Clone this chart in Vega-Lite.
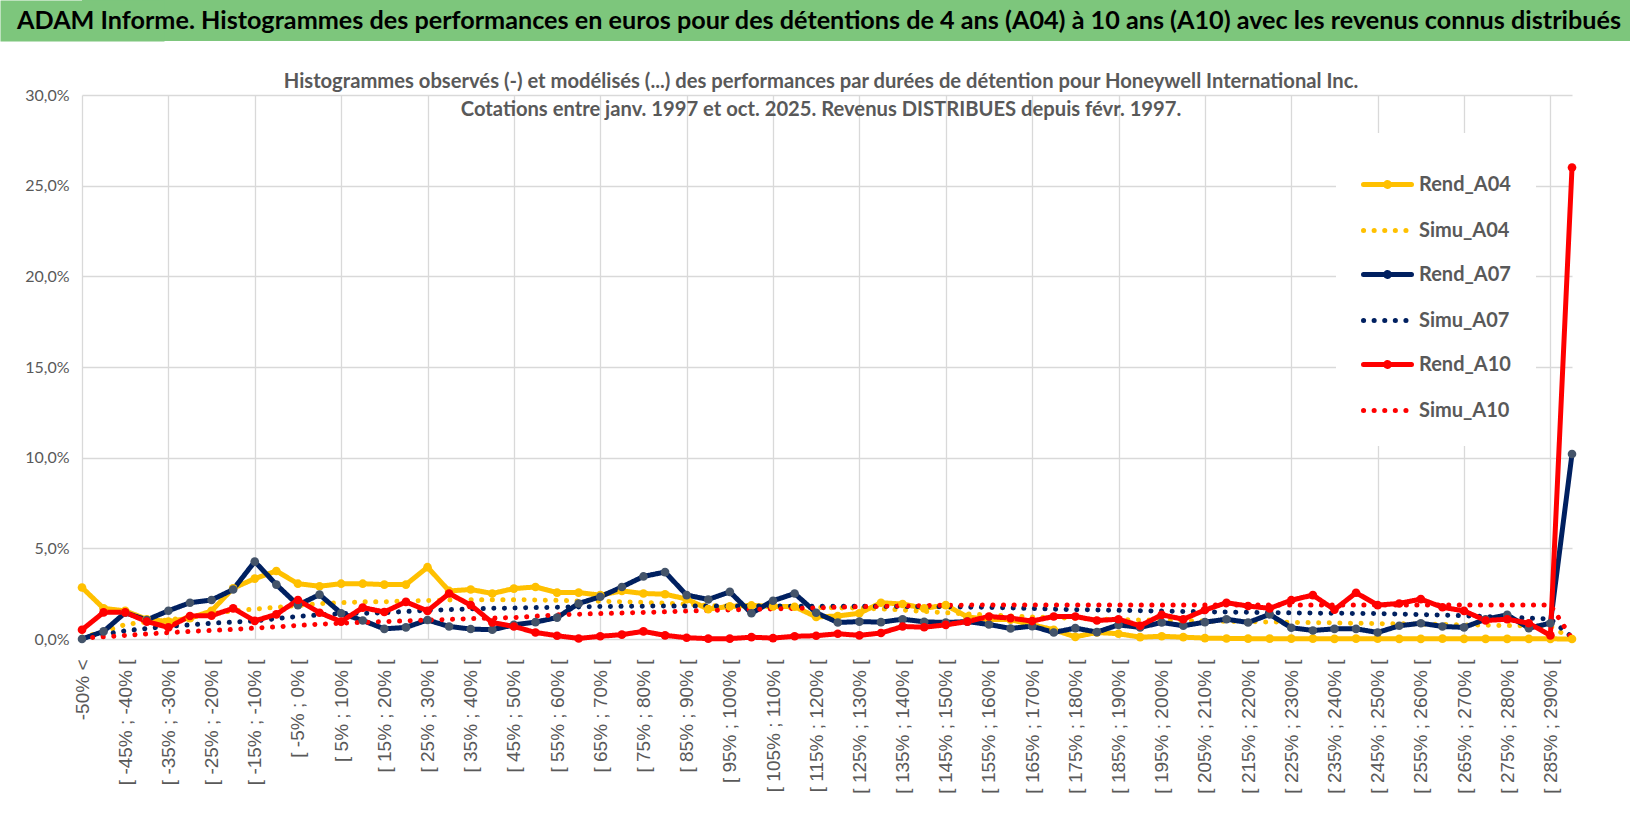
{
  "$schema": "https://vega.github.io/schema/vega-lite/v6.json",
  "padding": 0,
  "spacing": 30,
  "background": "white",
  "config": {"view": {"stroke": null}},
  "datasets": {
    "cats": [
      {"i": 0, "c": "-50% <"}, {"i": 1, "c": "[ -50% ; -45% ["}, {"i": 2, "c": "[ -45% ; -40% ["}, {"i": 3, "c": "[ -40% ; -35% ["},
      {"i": 4, "c": "[ -35% ; -30% ["}, {"i": 5, "c": "[ -30% ; -25% ["}, {"i": 6, "c": "[ -25% ; -20% ["}, {"i": 7, "c": "[ -20% ; -15% ["},
      {"i": 8, "c": "[ -15% ; -10% ["}, {"i": 9, "c": "[ -10% ; -5% ["}, {"i": 10, "c": "[ -5% ; 0% ["}, {"i": 11, "c": "[ 0% ; 5% ["},
      {"i": 12, "c": "[ 5% ; 10% ["}, {"i": 13, "c": "[ 10% ; 15% ["}, {"i": 14, "c": "[ 15% ; 20% ["}, {"i": 15, "c": "[ 20% ; 25% ["},
      {"i": 16, "c": "[ 25% ; 30% ["}, {"i": 17, "c": "[ 30% ; 35% ["}, {"i": 18, "c": "[ 35% ; 40% ["}, {"i": 19, "c": "[ 40% ; 45% ["},
      {"i": 20, "c": "[ 45% ; 50% ["}, {"i": 21, "c": "[ 50% ; 55% ["}, {"i": 22, "c": "[ 55% ; 60% ["}, {"i": 23, "c": "[ 60% ; 65% ["},
      {"i": 24, "c": "[ 65% ; 70% ["}, {"i": 25, "c": "[ 70% ; 75% ["}, {"i": 26, "c": "[ 75% ; 80% ["}, {"i": 27, "c": "[ 80% ; 85% ["},
      {"i": 28, "c": "[ 85% ; 90% ["}, {"i": 29, "c": "[ 90% ; 95% ["}, {"i": 30, "c": "[ 95% ; 100% ["}, {"i": 31, "c": "[ 100% ; 105% ["},
      {"i": 32, "c": "[ 105% ; 110% ["}, {"i": 33, "c": "[ 110% ; 115% ["}, {"i": 34, "c": "[ 115% ; 120% ["}, {"i": 35, "c": "[ 120% ; 125% ["},
      {"i": 36, "c": "[ 125% ; 130% ["}, {"i": 37, "c": "[ 130% ; 135% ["}, {"i": 38, "c": "[ 135% ; 140% ["}, {"i": 39, "c": "[ 140% ; 145% ["},
      {"i": 40, "c": "[ 145% ; 150% ["}, {"i": 41, "c": "[ 150% ; 155% ["}, {"i": 42, "c": "[ 155% ; 160% ["}, {"i": 43, "c": "[ 160% ; 165% ["},
      {"i": 44, "c": "[ 165% ; 170% ["}, {"i": 45, "c": "[ 170% ; 175% ["}, {"i": 46, "c": "[ 175% ; 180% ["}, {"i": 47, "c": "[ 180% ; 185% ["},
      {"i": 48, "c": "[ 185% ; 190% ["}, {"i": 49, "c": "[ 190% ; 195% ["}, {"i": 50, "c": "[ 195% ; 200% ["}, {"i": 51, "c": "[ 200% ; 205% ["},
      {"i": 52, "c": "[ 205% ; 210% ["}, {"i": 53, "c": "[ 210% ; 215% ["}, {"i": 54, "c": "[ 215% ; 220% ["}, {"i": 55, "c": "[ 220% ; 225% ["},
      {"i": 56, "c": "[ 225% ; 230% ["}, {"i": 57, "c": "[ 230% ; 235% ["}, {"i": 58, "c": "[ 235% ; 240% ["}, {"i": 59, "c": "[ 240% ; 245% ["},
      {"i": 60, "c": "[ 245% ; 250% ["}, {"i": 61, "c": "[ 250% ; 255% ["}, {"i": 62, "c": "[ 255% ; 260% ["}, {"i": 63, "c": "[ 260% ; 265% ["},
      {"i": 64, "c": "[ 265% ; 270% ["}, {"i": 65, "c": "[ 270% ; 275% ["}, {"i": 66, "c": "[ 275% ; 280% ["}, {"i": 67, "c": "[ 280% ; 285% ["},
      {"i": 68, "c": "[ 285% ; 290% ["}, {"i": 69, "c": "290% >"}
    ],
    "series": [
      {"s": "Rend_A04", "i": 0, "v": 2.84}, {"s": "Rend_A04", "i": 1, "v": 1.69}, {"s": "Rend_A04", "i": 2, "v": 1.55}, {"s": "Rend_A04", "i": 3, "v": 1.09}, {"s": "Rend_A04", "i": 4, "v": 0.96},
      {"s": "Rend_A04", "i": 5, "v": 1.15}, {"s": "Rend_A04", "i": 6, "v": 1.55}, {"s": "Rend_A04", "i": 7, "v": 2.8}, {"s": "Rend_A04", "i": 8, "v": 3.33}, {"s": "Rend_A04", "i": 9, "v": 3.75},
      {"s": "Rend_A04", "i": 10, "v": 3.05}, {"s": "Rend_A04", "i": 11, "v": 2.91}, {"s": "Rend_A04", "i": 12, "v": 3.05}, {"s": "Rend_A04", "i": 13, "v": 3.05}, {"s": "Rend_A04", "i": 14, "v": 3.0},
      {"s": "Rend_A04", "i": 15, "v": 3.0}, {"s": "Rend_A04", "i": 16, "v": 3.96}, {"s": "Rend_A04", "i": 17, "v": 2.65}, {"s": "Rend_A04", "i": 18, "v": 2.73}, {"s": "Rend_A04", "i": 19, "v": 2.51},
      {"s": "Rend_A04", "i": 20, "v": 2.78}, {"s": "Rend_A04", "i": 21, "v": 2.87}, {"s": "Rend_A04", "i": 22, "v": 2.56}, {"s": "Rend_A04", "i": 23, "v": 2.56}, {"s": "Rend_A04", "i": 24, "v": 2.42},
      {"s": "Rend_A04", "i": 25, "v": 2.65}, {"s": "Rend_A04", "i": 26, "v": 2.51}, {"s": "Rend_A04", "i": 27, "v": 2.47}, {"s": "Rend_A04", "i": 28, "v": 2.2}, {"s": "Rend_A04", "i": 29, "v": 1.65},
      {"s": "Rend_A04", "i": 30, "v": 1.8}, {"s": "Rend_A04", "i": 31, "v": 1.85}, {"s": "Rend_A04", "i": 32, "v": 1.8}, {"s": "Rend_A04", "i": 33, "v": 1.78}, {"s": "Rend_A04", "i": 34, "v": 1.22},
      {"s": "Rend_A04", "i": 35, "v": 1.27}, {"s": "Rend_A04", "i": 36, "v": 1.42}, {"s": "Rend_A04", "i": 37, "v": 2.0}, {"s": "Rend_A04", "i": 38, "v": 1.93}, {"s": "Rend_A04", "i": 39, "v": 1.69},
      {"s": "Rend_A04", "i": 40, "v": 1.87}, {"s": "Rend_A04", "i": 41, "v": 1.22}, {"s": "Rend_A04", "i": 42, "v": 1.07}, {"s": "Rend_A04", "i": 43, "v": 1.07}, {"s": "Rend_A04", "i": 44, "v": 0.78},
      {"s": "Rend_A04", "i": 45, "v": 0.51}, {"s": "Rend_A04", "i": 46, "v": 0.12}, {"s": "Rend_A04", "i": 47, "v": 0.36}, {"s": "Rend_A04", "i": 48, "v": 0.29}, {"s": "Rend_A04", "i": 49, "v": 0.1},
      {"s": "Rend_A04", "i": 50, "v": 0.15}, {"s": "Rend_A04", "i": 51, "v": 0.1}, {"s": "Rend_A04", "i": 52, "v": 0.05}, {"s": "Rend_A04", "i": 53, "v": 0.03}, {"s": "Rend_A04", "i": 54, "v": 0.02},
      {"s": "Rend_A04", "i": 55, "v": 0.02}, {"s": "Rend_A04", "i": 56, "v": 0.02}, {"s": "Rend_A04", "i": 57, "v": 0.02}, {"s": "Rend_A04", "i": 58, "v": 0.01}, {"s": "Rend_A04", "i": 59, "v": 0.02},
      {"s": "Rend_A04", "i": 60, "v": 0.02}, {"s": "Rend_A04", "i": 61, "v": 0.01}, {"s": "Rend_A04", "i": 62, "v": 0.01}, {"s": "Rend_A04", "i": 63, "v": 0.02}, {"s": "Rend_A04", "i": 64, "v": 0.01},
      {"s": "Rend_A04", "i": 65, "v": 0.01}, {"s": "Rend_A04", "i": 66, "v": 0.01}, {"s": "Rend_A04", "i": 67, "v": 0.01}, {"s": "Rend_A04", "i": 68, "v": 0.01}, {"s": "Rend_A04", "i": 69, "v": 0.0},

      {"s": "Simu_A04", "i": 0, "v": 0.1}, {"s": "Simu_A04", "i": 1, "v": 0.4}, {"s": "Simu_A04", "i": 2, "v": 0.8}, {"s": "Simu_A04", "i": 3, "v": 0.95}, {"s": "Simu_A04", "i": 4, "v": 1.05},
      {"s": "Simu_A04", "i": 5, "v": 1.2}, {"s": "Simu_A04", "i": 6, "v": 1.4}, {"s": "Simu_A04", "i": 7, "v": 1.55}, {"s": "Simu_A04", "i": 8, "v": 1.65}, {"s": "Simu_A04", "i": 9, "v": 1.75},
      {"s": "Simu_A04", "i": 10, "v": 1.85}, {"s": "Simu_A04", "i": 11, "v": 1.95}, {"s": "Simu_A04", "i": 12, "v": 2.0}, {"s": "Simu_A04", "i": 13, "v": 2.05}, {"s": "Simu_A04", "i": 14, "v": 2.05},
      {"s": "Simu_A04", "i": 15, "v": 2.1}, {"s": "Simu_A04", "i": 16, "v": 2.12}, {"s": "Simu_A04", "i": 17, "v": 2.15}, {"s": "Simu_A04", "i": 18, "v": 2.17}, {"s": "Simu_A04", "i": 19, "v": 2.17},
      {"s": "Simu_A04", "i": 20, "v": 2.17}, {"s": "Simu_A04", "i": 21, "v": 2.15}, {"s": "Simu_A04", "i": 22, "v": 2.13}, {"s": "Simu_A04", "i": 23, "v": 2.1}, {"s": "Simu_A04", "i": 24, "v": 2.08},
      {"s": "Simu_A04", "i": 25, "v": 2.05}, {"s": "Simu_A04", "i": 26, "v": 2.02}, {"s": "Simu_A04", "i": 27, "v": 1.98}, {"s": "Simu_A04", "i": 28, "v": 1.92}, {"s": "Simu_A04", "i": 29, "v": 1.85},
      {"s": "Simu_A04", "i": 30, "v": 1.8}, {"s": "Simu_A04", "i": 31, "v": 1.8}, {"s": "Simu_A04", "i": 32, "v": 1.78}, {"s": "Simu_A04", "i": 33, "v": 1.76}, {"s": "Simu_A04", "i": 34, "v": 1.74},
      {"s": "Simu_A04", "i": 35, "v": 1.72}, {"s": "Simu_A04", "i": 36, "v": 1.7}, {"s": "Simu_A04", "i": 37, "v": 1.66}, {"s": "Simu_A04", "i": 38, "v": 1.6}, {"s": "Simu_A04", "i": 39, "v": 1.52},
      {"s": "Simu_A04", "i": 40, "v": 1.45}, {"s": "Simu_A04", "i": 41, "v": 1.38}, {"s": "Simu_A04", "i": 42, "v": 1.32}, {"s": "Simu_A04", "i": 43, "v": 1.27}, {"s": "Simu_A04", "i": 44, "v": 1.22},
      {"s": "Simu_A04", "i": 45, "v": 1.18}, {"s": "Simu_A04", "i": 46, "v": 1.14}, {"s": "Simu_A04", "i": 47, "v": 1.1}, {"s": "Simu_A04", "i": 48, "v": 1.07}, {"s": "Simu_A04", "i": 49, "v": 1.05},
      {"s": "Simu_A04", "i": 50, "v": 1.03}, {"s": "Simu_A04", "i": 51, "v": 1.01}, {"s": "Simu_A04", "i": 52, "v": 0.99}, {"s": "Simu_A04", "i": 53, "v": 0.97}, {"s": "Simu_A04", "i": 54, "v": 0.95},
      {"s": "Simu_A04", "i": 55, "v": 0.94}, {"s": "Simu_A04", "i": 56, "v": 0.92}, {"s": "Simu_A04", "i": 57, "v": 0.9}, {"s": "Simu_A04", "i": 58, "v": 0.89}, {"s": "Simu_A04", "i": 59, "v": 0.87},
      {"s": "Simu_A04", "i": 60, "v": 0.85}, {"s": "Simu_A04", "i": 61, "v": 0.84}, {"s": "Simu_A04", "i": 62, "v": 0.82}, {"s": "Simu_A04", "i": 63, "v": 0.8}, {"s": "Simu_A04", "i": 64, "v": 0.78},
      {"s": "Simu_A04", "i": 65, "v": 0.76}, {"s": "Simu_A04", "i": 66, "v": 0.74}, {"s": "Simu_A04", "i": 67, "v": 0.72}, {"s": "Simu_A04", "i": 68, "v": 0.7}, {"s": "Simu_A04", "i": 69, "v": 0.0},

      {"s": "Rend_A07", "i": 0, "v": 0.0}, {"s": "Rend_A07", "i": 1, "v": 0.42}, {"s": "Rend_A07", "i": 2, "v": 1.45}, {"s": "Rend_A07", "i": 3, "v": 1.05}, {"s": "Rend_A07", "i": 4, "v": 1.56},
      {"s": "Rend_A07", "i": 5, "v": 2.0}, {"s": "Rend_A07", "i": 6, "v": 2.15}, {"s": "Rend_A07", "i": 7, "v": 2.73}, {"s": "Rend_A07", "i": 8, "v": 4.27}, {"s": "Rend_A07", "i": 9, "v": 3.0},
      {"s": "Rend_A07", "i": 10, "v": 1.87}, {"s": "Rend_A07", "i": 11, "v": 2.45}, {"s": "Rend_A07", "i": 12, "v": 1.42}, {"s": "Rend_A07", "i": 13, "v": 1.02}, {"s": "Rend_A07", "i": 14, "v": 0.56},
      {"s": "Rend_A07", "i": 15, "v": 0.64}, {"s": "Rend_A07", "i": 16, "v": 1.05}, {"s": "Rend_A07", "i": 17, "v": 0.69}, {"s": "Rend_A07", "i": 18, "v": 0.55}, {"s": "Rend_A07", "i": 19, "v": 0.51},
      {"s": "Rend_A07", "i": 20, "v": 0.78}, {"s": "Rend_A07", "i": 21, "v": 0.93}, {"s": "Rend_A07", "i": 22, "v": 1.18}, {"s": "Rend_A07", "i": 23, "v": 1.96}, {"s": "Rend_A07", "i": 24, "v": 2.33},
      {"s": "Rend_A07", "i": 25, "v": 2.87}, {"s": "Rend_A07", "i": 26, "v": 3.45}, {"s": "Rend_A07", "i": 27, "v": 3.69}, {"s": "Rend_A07", "i": 28, "v": 2.42}, {"s": "Rend_A07", "i": 29, "v": 2.18},
      {"s": "Rend_A07", "i": 30, "v": 2.6}, {"s": "Rend_A07", "i": 31, "v": 1.42}, {"s": "Rend_A07", "i": 32, "v": 2.11}, {"s": "Rend_A07", "i": 33, "v": 2.51}, {"s": "Rend_A07", "i": 34, "v": 1.45},
      {"s": "Rend_A07", "i": 35, "v": 0.91}, {"s": "Rend_A07", "i": 36, "v": 0.96}, {"s": "Rend_A07", "i": 37, "v": 0.93}, {"s": "Rend_A07", "i": 38, "v": 1.09}, {"s": "Rend_A07", "i": 39, "v": 0.95},
      {"s": "Rend_A07", "i": 40, "v": 0.91}, {"s": "Rend_A07", "i": 41, "v": 0.96}, {"s": "Rend_A07", "i": 42, "v": 0.8}, {"s": "Rend_A07", "i": 43, "v": 0.58}, {"s": "Rend_A07", "i": 44, "v": 0.71},
      {"s": "Rend_A07", "i": 45, "v": 0.36}, {"s": "Rend_A07", "i": 46, "v": 0.6}, {"s": "Rend_A07", "i": 47, "v": 0.38}, {"s": "Rend_A07", "i": 48, "v": 0.78}, {"s": "Rend_A07", "i": 49, "v": 0.64},
      {"s": "Rend_A07", "i": 50, "v": 0.91}, {"s": "Rend_A07", "i": 51, "v": 0.73}, {"s": "Rend_A07", "i": 52, "v": 0.93}, {"s": "Rend_A07", "i": 53, "v": 1.09}, {"s": "Rend_A07", "i": 54, "v": 0.91},
      {"s": "Rend_A07", "i": 55, "v": 1.36}, {"s": "Rend_A07", "i": 56, "v": 0.62}, {"s": "Rend_A07", "i": 57, "v": 0.47}, {"s": "Rend_A07", "i": 58, "v": 0.56}, {"s": "Rend_A07", "i": 59, "v": 0.56},
      {"s": "Rend_A07", "i": 60, "v": 0.36}, {"s": "Rend_A07", "i": 61, "v": 0.73}, {"s": "Rend_A07", "i": 62, "v": 0.87}, {"s": "Rend_A07", "i": 63, "v": 0.69}, {"s": "Rend_A07", "i": 64, "v": 0.64},
      {"s": "Rend_A07", "i": 65, "v": 1.09}, {"s": "Rend_A07", "i": 66, "v": 1.33}, {"s": "Rend_A07", "i": 67, "v": 0.6}, {"s": "Rend_A07", "i": 68, "v": 0.87}, {"s": "Rend_A07", "i": 69, "v": 10.2},

      {"s": "Simu_A07", "i": 0, "v": 0.0}, {"s": "Simu_A07", "i": 1, "v": 0.25}, {"s": "Simu_A07", "i": 2, "v": 0.45}, {"s": "Simu_A07", "i": 3, "v": 0.58}, {"s": "Simu_A07", "i": 4, "v": 0.7},
      {"s": "Simu_A07", "i": 5, "v": 0.78}, {"s": "Simu_A07", "i": 6, "v": 0.87}, {"s": "Simu_A07", "i": 7, "v": 0.93}, {"s": "Simu_A07", "i": 8, "v": 1.0}, {"s": "Simu_A07", "i": 9, "v": 1.12},
      {"s": "Simu_A07", "i": 10, "v": 1.25}, {"s": "Simu_A07", "i": 11, "v": 1.33}, {"s": "Simu_A07", "i": 12, "v": 1.4}, {"s": "Simu_A07", "i": 13, "v": 1.42}, {"s": "Simu_A07", "i": 14, "v": 1.45},
      {"s": "Simu_A07", "i": 15, "v": 1.52}, {"s": "Simu_A07", "i": 16, "v": 1.58}, {"s": "Simu_A07", "i": 17, "v": 1.62}, {"s": "Simu_A07", "i": 18, "v": 1.66}, {"s": "Simu_A07", "i": 19, "v": 1.69},
      {"s": "Simu_A07", "i": 20, "v": 1.71}, {"s": "Simu_A07", "i": 21, "v": 1.73}, {"s": "Simu_A07", "i": 22, "v": 1.75}, {"s": "Simu_A07", "i": 23, "v": 1.77}, {"s": "Simu_A07", "i": 24, "v": 1.79},
      {"s": "Simu_A07", "i": 25, "v": 1.8}, {"s": "Simu_A07", "i": 26, "v": 1.81}, {"s": "Simu_A07", "i": 27, "v": 1.82}, {"s": "Simu_A07", "i": 28, "v": 1.82}, {"s": "Simu_A07", "i": 29, "v": 1.82},
      {"s": "Simu_A07", "i": 30, "v": 1.82}, {"s": "Simu_A07", "i": 31, "v": 1.82}, {"s": "Simu_A07", "i": 32, "v": 1.82}, {"s": "Simu_A07", "i": 33, "v": 1.81}, {"s": "Simu_A07", "i": 34, "v": 1.81},
      {"s": "Simu_A07", "i": 35, "v": 1.8}, {"s": "Simu_A07", "i": 36, "v": 1.8}, {"s": "Simu_A07", "i": 37, "v": 1.8}, {"s": "Simu_A07", "i": 38, "v": 1.79}, {"s": "Simu_A07", "i": 39, "v": 1.79},
      {"s": "Simu_A07", "i": 40, "v": 1.78}, {"s": "Simu_A07", "i": 41, "v": 1.76}, {"s": "Simu_A07", "i": 42, "v": 1.74}, {"s": "Simu_A07", "i": 43, "v": 1.71}, {"s": "Simu_A07", "i": 44, "v": 1.68},
      {"s": "Simu_A07", "i": 45, "v": 1.65}, {"s": "Simu_A07", "i": 46, "v": 1.62}, {"s": "Simu_A07", "i": 47, "v": 1.6}, {"s": "Simu_A07", "i": 48, "v": 1.58}, {"s": "Simu_A07", "i": 49, "v": 1.56},
      {"s": "Simu_A07", "i": 50, "v": 1.54}, {"s": "Simu_A07", "i": 51, "v": 1.52}, {"s": "Simu_A07", "i": 52, "v": 1.5}, {"s": "Simu_A07", "i": 53, "v": 1.49}, {"s": "Simu_A07", "i": 54, "v": 1.47},
      {"s": "Simu_A07", "i": 55, "v": 1.46}, {"s": "Simu_A07", "i": 56, "v": 1.44}, {"s": "Simu_A07", "i": 57, "v": 1.43}, {"s": "Simu_A07", "i": 58, "v": 1.42}, {"s": "Simu_A07", "i": 59, "v": 1.41},
      {"s": "Simu_A07", "i": 60, "v": 1.4}, {"s": "Simu_A07", "i": 61, "v": 1.38}, {"s": "Simu_A07", "i": 62, "v": 1.35}, {"s": "Simu_A07", "i": 63, "v": 1.32}, {"s": "Simu_A07", "i": 64, "v": 1.28},
      {"s": "Simu_A07", "i": 65, "v": 1.24}, {"s": "Simu_A07", "i": 66, "v": 1.2}, {"s": "Simu_A07", "i": 67, "v": 1.15}, {"s": "Simu_A07", "i": 68, "v": 1.1}, {"s": "Simu_A07", "i": 69, "v": 0.1},

      {"s": "Rend_A10", "i": 0, "v": 0.51}, {"s": "Rend_A10", "i": 1, "v": 1.47}, {"s": "Rend_A10", "i": 2, "v": 1.47}, {"s": "Rend_A10", "i": 3, "v": 0.96}, {"s": "Rend_A10", "i": 4, "v": 0.64},
      {"s": "Rend_A10", "i": 5, "v": 1.27}, {"s": "Rend_A10", "i": 6, "v": 1.29}, {"s": "Rend_A10", "i": 7, "v": 1.69}, {"s": "Rend_A10", "i": 8, "v": 1.0}, {"s": "Rend_A10", "i": 9, "v": 1.36},
      {"s": "Rend_A10", "i": 10, "v": 2.15}, {"s": "Rend_A10", "i": 11, "v": 1.45}, {"s": "Rend_A10", "i": 12, "v": 0.96}, {"s": "Rend_A10", "i": 13, "v": 1.73}, {"s": "Rend_A10", "i": 14, "v": 1.49},
      {"s": "Rend_A10", "i": 15, "v": 2.05}, {"s": "Rend_A10", "i": 16, "v": 1.55}, {"s": "Rend_A10", "i": 17, "v": 2.51}, {"s": "Rend_A10", "i": 18, "v": 1.87}, {"s": "Rend_A10", "i": 19, "v": 0.91},
      {"s": "Rend_A10", "i": 20, "v": 0.69}, {"s": "Rend_A10", "i": 21, "v": 0.36}, {"s": "Rend_A10", "i": 22, "v": 0.18}, {"s": "Rend_A10", "i": 23, "v": 0.03}, {"s": "Rend_A10", "i": 24, "v": 0.15},
      {"s": "Rend_A10", "i": 25, "v": 0.24}, {"s": "Rend_A10", "i": 26, "v": 0.42}, {"s": "Rend_A10", "i": 27, "v": 0.2}, {"s": "Rend_A10", "i": 28, "v": 0.07}, {"s": "Rend_A10", "i": 29, "v": 0.02},
      {"s": "Rend_A10", "i": 30, "v": 0.02}, {"s": "Rend_A10", "i": 31, "v": 0.1}, {"s": "Rend_A10", "i": 32, "v": 0.05}, {"s": "Rend_A10", "i": 33, "v": 0.15}, {"s": "Rend_A10", "i": 34, "v": 0.18},
      {"s": "Rend_A10", "i": 35, "v": 0.29}, {"s": "Rend_A10", "i": 36, "v": 0.2}, {"s": "Rend_A10", "i": 37, "v": 0.33}, {"s": "Rend_A10", "i": 38, "v": 0.69}, {"s": "Rend_A10", "i": 39, "v": 0.65},
      {"s": "Rend_A10", "i": 40, "v": 0.78}, {"s": "Rend_A10", "i": 41, "v": 0.96}, {"s": "Rend_A10", "i": 42, "v": 1.24}, {"s": "Rend_A10", "i": 43, "v": 1.15}, {"s": "Rend_A10", "i": 44, "v": 0.99},
      {"s": "Rend_A10", "i": 45, "v": 1.24}, {"s": "Rend_A10", "i": 46, "v": 1.24}, {"s": "Rend_A10", "i": 47, "v": 1.02}, {"s": "Rend_A10", "i": 48, "v": 1.09}, {"s": "Rend_A10", "i": 49, "v": 0.73},
      {"s": "Rend_A10", "i": 50, "v": 1.33}, {"s": "Rend_A10", "i": 51, "v": 1.09}, {"s": "Rend_A10", "i": 52, "v": 1.6}, {"s": "Rend_A10", "i": 53, "v": 2.0}, {"s": "Rend_A10", "i": 54, "v": 1.82},
      {"s": "Rend_A10", "i": 55, "v": 1.69}, {"s": "Rend_A10", "i": 56, "v": 2.14}, {"s": "Rend_A10", "i": 57, "v": 2.42}, {"s": "Rend_A10", "i": 58, "v": 1.62}, {"s": "Rend_A10", "i": 59, "v": 2.55},
      {"s": "Rend_A10", "i": 60, "v": 1.87}, {"s": "Rend_A10", "i": 61, "v": 1.96}, {"s": "Rend_A10", "i": 62, "v": 2.2}, {"s": "Rend_A10", "i": 63, "v": 1.75}, {"s": "Rend_A10", "i": 64, "v": 1.55},
      {"s": "Rend_A10", "i": 65, "v": 1.02}, {"s": "Rend_A10", "i": 66, "v": 1.09}, {"s": "Rend_A10", "i": 67, "v": 0.87}, {"s": "Rend_A10", "i": 68, "v": 0.2}, {"s": "Rend_A10", "i": 69, "v": 26.0},

      {"s": "Simu_A10", "i": 0, "v": 0.05}, {"s": "Simu_A10", "i": 1, "v": 0.12}, {"s": "Simu_A10", "i": 2, "v": 0.2}, {"s": "Simu_A10", "i": 3, "v": 0.28}, {"s": "Simu_A10", "i": 4, "v": 0.35},
      {"s": "Simu_A10", "i": 5, "v": 0.42}, {"s": "Simu_A10", "i": 6, "v": 0.47}, {"s": "Simu_A10", "i": 7, "v": 0.53}, {"s": "Simu_A10", "i": 8, "v": 0.6}, {"s": "Simu_A10", "i": 9, "v": 0.67},
      {"s": "Simu_A10", "i": 10, "v": 0.75}, {"s": "Simu_A10", "i": 11, "v": 0.82}, {"s": "Simu_A10", "i": 12, "v": 0.87}, {"s": "Simu_A10", "i": 13, "v": 0.92}, {"s": "Simu_A10", "i": 14, "v": 0.96},
      {"s": "Simu_A10", "i": 15, "v": 1.0}, {"s": "Simu_A10", "i": 16, "v": 1.04}, {"s": "Simu_A10", "i": 17, "v": 1.08}, {"s": "Simu_A10", "i": 18, "v": 1.12}, {"s": "Simu_A10", "i": 19, "v": 1.15},
      {"s": "Simu_A10", "i": 20, "v": 1.18}, {"s": "Simu_A10", "i": 21, "v": 1.26}, {"s": "Simu_A10", "i": 22, "v": 1.33}, {"s": "Simu_A10", "i": 23, "v": 1.37}, {"s": "Simu_A10", "i": 24, "v": 1.4},
      {"s": "Simu_A10", "i": 25, "v": 1.43}, {"s": "Simu_A10", "i": 26, "v": 1.46}, {"s": "Simu_A10", "i": 27, "v": 1.5}, {"s": "Simu_A10", "i": 28, "v": 1.54}, {"s": "Simu_A10", "i": 29, "v": 1.57},
      {"s": "Simu_A10", "i": 30, "v": 1.6}, {"s": "Simu_A10", "i": 31, "v": 1.63}, {"s": "Simu_A10", "i": 32, "v": 1.66}, {"s": "Simu_A10", "i": 33, "v": 1.69}, {"s": "Simu_A10", "i": 34, "v": 1.72},
      {"s": "Simu_A10", "i": 35, "v": 1.75}, {"s": "Simu_A10", "i": 36, "v": 1.78}, {"s": "Simu_A10", "i": 37, "v": 1.8}, {"s": "Simu_A10", "i": 38, "v": 1.82}, {"s": "Simu_A10", "i": 39, "v": 1.84},
      {"s": "Simu_A10", "i": 40, "v": 1.86}, {"s": "Simu_A10", "i": 41, "v": 1.87}, {"s": "Simu_A10", "i": 42, "v": 1.88}, {"s": "Simu_A10", "i": 43, "v": 1.88}, {"s": "Simu_A10", "i": 44, "v": 1.88},
      {"s": "Simu_A10", "i": 45, "v": 1.88}, {"s": "Simu_A10", "i": 46, "v": 1.88}, {"s": "Simu_A10", "i": 47, "v": 1.88}, {"s": "Simu_A10", "i": 48, "v": 1.88}, {"s": "Simu_A10", "i": 49, "v": 1.88},
      {"s": "Simu_A10", "i": 50, "v": 1.88}, {"s": "Simu_A10", "i": 51, "v": 1.88}, {"s": "Simu_A10", "i": 52, "v": 1.88}, {"s": "Simu_A10", "i": 53, "v": 1.88}, {"s": "Simu_A10", "i": 54, "v": 1.88},
      {"s": "Simu_A10", "i": 55, "v": 1.88}, {"s": "Simu_A10", "i": 56, "v": 1.88}, {"s": "Simu_A10", "i": 57, "v": 1.88}, {"s": "Simu_A10", "i": 58, "v": 1.88}, {"s": "Simu_A10", "i": 59, "v": 1.88},
      {"s": "Simu_A10", "i": 60, "v": 1.88}, {"s": "Simu_A10", "i": 61, "v": 1.88}, {"s": "Simu_A10", "i": 62, "v": 1.88}, {"s": "Simu_A10", "i": 63, "v": 1.88}, {"s": "Simu_A10", "i": 64, "v": 1.88},
      {"s": "Simu_A10", "i": 65, "v": 1.88}, {"s": "Simu_A10", "i": 66, "v": 1.88}, {"s": "Simu_A10", "i": 67, "v": 1.88}, {"s": "Simu_A10", "i": 68, "v": 1.88}, {"s": "Simu_A10", "i": 69, "v": 0.02}
    ]
  },
  "vconcat": [
    {
      "width": 1548,
      "height": 41,
      "view": {"fill": "#7DC67C", "stroke": null},
      "data": {"values": [{"k": "b", "t": "ADAM Informe. Histogrammes des performances en euros pour des détentions de 4 ans (A04) à 10 ans (A10) avec les revenus connus distribués"}]},
      "mark": {"type": "text", "font": "Lato", "fontSize": 25.2, "fontWeight": "bold", "color": "#000000", "dx": -37},
      "encoding": {
        "y": {
          "field": "k",
          "type": "nominal",
          "axis": {"title": null, "labels": false, "ticks": false, "grid": false, "domain": true, "domainColor": "#7DC67C", "domainWidth": 164, "minExtent": 82, "maxExtent": 82}
        },
        "text": {"field": "t", "type": "nominal"}
      }
    },
    {
      "width": 1490,
      "height": 544,
      "title": {
        "text": ["Histogrammes observés (-) et modélisés (...) des performances par durées de détention pour Honeywell International Inc.", "Cotations entre janv. 1997 et oct. 2025.  Revenus DISTRIBUES depuis févr. 1997."],
        "font": "Lato",
        "fontSize": 20.2,
        "fontWeight": "bold",
        "color": "#595959",
        "lineHeight": 28,
        "anchor": "middle",
        "frame": "group",
        "offset": -33,
        "dx": -6
      },
      "data": {"name": "series"},
      "transform": [
        {"lookup": "i", "from": {"data": {"name": "cats"}, "key": "i", "fields": ["c"]}}
      ],
      "encoding": {
        "x": {
          "field": "c",
          "type": "nominal",
          "sort": {"field": "i", "op": "min"},
          "scale": {"type": "point", "padding": 0},
          "axis": {
            "title": null,
            "labelAngle": -90,
            "labelExpr": "round(datum.index * 69) % 2 == 0 ? datum.label : ''",
            "labelOverlap": false,
            "labelFont": "Liberation Sans",
            "labelFontSize": 19,
            "labelColor": "#595959",
            "labelPadding": 20,
            "ticks": false,
            "domain": false,
            "grid": true,
            "gridColor": "#D9D9D9",
            "gridWidth": 1.3,
            "gridOpacity": {"condition": {"test": "round(datum.index * 69) % 4 == 0", "value": 1}, "value": 0}
          }
        },
        "y": {
          "field": "v",
          "type": "quantitative",
          "scale": {"domain": [0, 30]},
          "axis": {
            "title": null,
            "values": [0, 5, 10, 15, 20, 25, 30],
            "labelExpr": "replace(format(datum.value, '.1f'), '.', ',') + '%'",
            "domain": false,
            "ticks": false,
            "grid": true,
            "gridColor": "#D9D9D9",
            "gridWidth": 1.3,
            "labelFont": "Lato",
            "labelFontSize": 16,
            "labelColor": "#595959",
            "labelPadding": 13,
            "minExtent": 82,
            "maxExtent": 82
          }
        }
      },
      "layer": [
        {
          "mark": {"type": "line", "strokeWidth": 5, "strokeCap": "round", "strokeJoin": "round"},
          "encoding": {
            "color": {
              "field": "s",
              "type": "nominal",
              "scale": {
                "domain": ["Rend_A04", "Simu_A04", "Rend_A07", "Simu_A07", "Rend_A10", "Simu_A10"],
                "range": ["#FFC000", "#FFC000", "#002060", "#002060", "#FF0000", "#FF0000"]
              },
              "legend": {
                "title": null,
                "orient": "none",
                "legendX": 1254,
                "legendY": 133,
                "fillColor": "white",
                "padding": 25,
                "symbolType": "stroke",
                "symbolSize": 2304,
                "symbolStrokeWidth": 5,
                "labelFont": "Lato",
                "labelFontSize": 20,
                "labelFontWeight": "bold",
                "labelColor": "#595959",
                "labelOffset": 5,
                "rowPadding": 7,
                "labelLimit": 200,
                "encode": {
                  "symbols": {
                    "update": {
                      "strokeCap": {"value": "round"},
                      "shape": {"signal": "slice(datum.value, 0, 4) == 'Rend' ? 'M-1,0H1M-0.08,0A0.08,0.08,0,1,0,0.08,0A0.08,0.08,0,1,0,-0.08,0' : 'stroke'"}
                    }
                  }
                }
              }
            },
            "strokeDash": {
              "field": "s",
              "type": "nominal",
              "scale": {
                "domain": ["Rend_A04", "Simu_A04", "Rend_A07", "Simu_A07", "Rend_A10", "Simu_A10"],
                "range": [[1, 0], [0.1, 10.5], [1, 0], [0.1, 10.5], [1, 0], [0.1, 10.5]]
              },
              "legend": {"title": null}
            }
          }
        },
        {
          "transform": [{"filter": {"field": "s", "oneOf": ["Rend_A04", "Rend_A07", "Rend_A10"]}}],
          "mark": {"type": "circle", "size": 75, "opacity": 1},
          "encoding": {
            "fill": {
              "field": "s",
              "type": "nominal",
              "scale": {"domain": ["Rend_A04", "Rend_A07", "Rend_A10"], "range": ["#FFC000", "#44546A", "#FF0000"]},
              "legend": null
            }
          }
        }
      ]
    }
  ]
}
